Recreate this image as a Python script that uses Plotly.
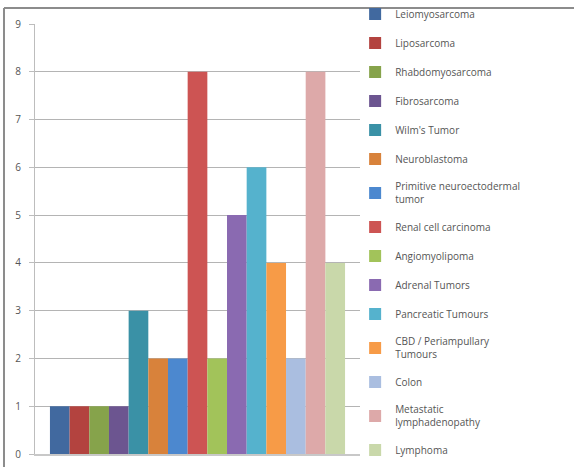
import plotly.graph_objects as go

categories = ["Leiomyosarcoma", "Liposarcoma", "Rhabdomyosarcoma", "Fibrosarcoma",
              "Wilm's Tumor", "Neuroblastoma", "Primitive neuroectodermal<br>tumor",
              "Renal cell carcinoma", "Angiomyolipoma", "Adrenal Tumors",
              "Pancreatic Tumours", "CBD / Periampullary<br>Tumours", "Colon",
              "Metastatic<br>lymphadenopathy", "Lymphoma"]
values = [1, 1, 1, 1, 3, 2, 2, 8, 2, 5, 6, 4, 2, 8, 4]
colors = ["#41699F", "#B3433F", "#86A34B", "#6C5590", "#3A91A6", "#D8823B",
          "#4C88CF", "#CD5453", "#A2C35A", "#8A6AB1", "#55B2CD", "#F79B47",
          "#AABEE0", "#DDA9A9", "#C9D8AA"]
y_ticks = list(range(0, 10))

fig = go.Figure()
for i, (name, v, c) in enumerate(zip(categories, values, colors)):
    fig.add_trace(go.Bar(x=[""], y=[v], name=name, marker=dict(color=c, line=dict(width=0)),
                         legendgroup=str(i)))

fig.update_layout(
    width=574, height=467,
    margin=dict(l=35, r=214, t=24, b=13, autoexpand=False),
    paper_bgcolor="white", plot_bgcolor="white",
    barmode="group", bargap=0.092, bargroupgap=0,
    showlegend=True,
    legend=dict(x=0.985, xanchor="left", y=1.057, yanchor="top",
                font=dict(family="Open Sans", size=10, color="#555555"),
                tracegroupgap=10, itemwidth=30, traceorder="grouped",
                maxheight=470,
                bgcolor="rgba(0,0,0,0)"),
    font=dict(family="Open Sans", color="#555555"),
)
fig.update_yaxes(range=[0, 9], tickvals=y_ticks, showgrid=True, gridcolor="#B4B4B4",
                 gridwidth=1, showline=True, linecolor="#BDBDBD", linewidth=1,
                 ticks="outside", ticklen=5, tickcolor="#BDBDBD", ticklabelstandoff=6,
                 tickfont=dict(size=10, color="#555555"), zeroline=False)
fig.update_xaxes(showticklabels=False, showline=True, linecolor="#C8C8C8", linewidth=2,
                 showgrid=False, zeroline=False)

# outer chart border (left and top)
fig.add_shape(type="line", xref="paper", yref="paper", x0=-0.0954, x1=-0.0954, y0=-0.05, y1=1.037,
              line=dict(color="#8C8C8C", width=2))
fig.add_shape(type="line", xref="paper", yref="paper", x0=-0.0954, x1=1.7, y0=1.037, y1=1.037,
              line=dict(color="#8C8C8C", width=2))

fig.write_html("out.html")
